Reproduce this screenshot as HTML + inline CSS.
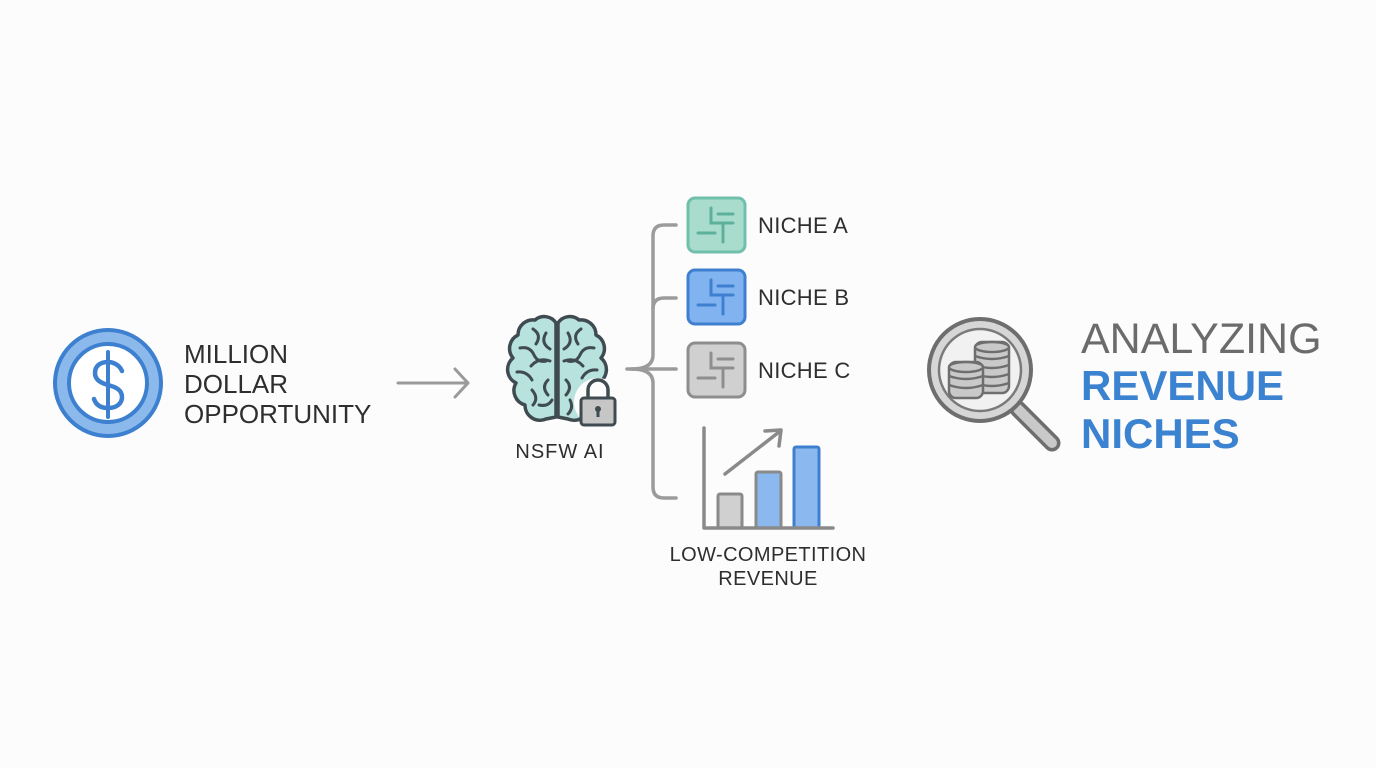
<!DOCTYPE html>
<html>
<head>
<meta charset="utf-8">
<style>
html,body{margin:0;padding:0;background:#fcfcfc;}
svg{display:block;}
text{font-family:"Liberation Sans",sans-serif;}
</style>
</head>
<body>
<svg width="1376" height="768" viewBox="0 0 1376 768" xmlns="http://www.w3.org/2000/svg">
<rect width="1376" height="768" fill="#fcfcfc"/>

<!-- Coin -->
<circle cx="108" cy="383" r="53" fill="#8cb9ec" stroke="#3d80cf" stroke-width="4"/>
<circle cx="108" cy="383" r="39" fill="#ffffff" stroke="#3d80cf" stroke-width="4"/>
<line x1="108" y1="352" x2="108" y2="417" stroke="#3d80cf" stroke-width="4" stroke-linecap="round"/>
<path d="M122,371 C119,364 112,362 108,362 C100,362 95,366 95,373 C95,380 101,383 108,385 C116,387 122,390 122,397 C122,404 116,408 108,408 C101,408 96,405 94,399" fill="none" stroke="#3d80cf" stroke-width="4.5" stroke-linecap="round"/>

<text x="184" y="363" font-size="26" fill="#2e2e2e">MILLION</text>
<text x="184" y="393" font-size="26" fill="#2e2e2e">DOLLAR</text>
<text x="184" y="423" font-size="26" fill="#2e2e2e">OPPORTUNITY</text>

<!-- Arrow -->
<line x1="398" y1="383" x2="467" y2="383" stroke="#9a9a9a" stroke-width="3" stroke-linecap="round"/>
<polyline points="455,369 468,383 455,397" fill="none" stroke="#9a9a9a" stroke-width="3" stroke-linecap="round" stroke-linejoin="round"/>

<!-- Brain -->
<g stroke="#3f4b50" stroke-width="3.5" stroke-linejoin="round" stroke-linecap="round" fill="#b8e2de">
<path d="M556,323 A14,14 0 0 0 535,320 A15,15 0 0 0 518,335 A15,15 0 0 0 513,358 A15,15 0 0 0 516,383 A15,15 0 0 0 525,405 A15,15 0 0 0 546,419 L556,417 Z"/>
<path d="M558,323 A14,14 0 0 1 579,320 A15,15 0 0 1 596,335 A15,15 0 0 1 601,358 A15,15 0 0 1 598,383 A15,15 0 0 1 589,405 A15,15 0 0 1 568,419 L558,417 Z"/>
</g>
<g stroke="#3f4b50" stroke-width="3" fill="none" stroke-linecap="round">
<path d="M533,329 q9,6 3,15"/>
<path d="M520,348 q10,-2 14,7 q4,8 12,6"/>
<path d="M546,333 q-6,10 4,16"/>
<path d="M517,372 q10,-1 15,8"/>
<path d="M531,366 q8,-9 19,-5"/>
<path d="M532,390 q7,8 1,15"/>
<path d="M548,380 q-7,7 0,15"/>
<path d="M539,405 q9,2 13,-5"/>
<path d="M581,329 q-9,6 -3,15"/>
<path d="M594,348 q-10,-2 -14,7 q-4,8 -12,6"/>
<path d="M568,333 q6,10 -4,16"/>
<path d="M597,370 q-10,-1 -15,8"/>
<path d="M583,366 q-8,-9 -19,-5"/>
<path d="M566,380 q7,7 0,15"/>
<path d="M570,400 q4,8 -2,14"/>
</g>
<!-- Lock -->
<circle cx="598" cy="402" r="24" fill="#fcfcfc"/>
<path d="M588,400 v-10 a10,10 0 0 1 20,0 v10" fill="none" stroke="#3f4b50" stroke-width="3.5"/>
<rect x="581" y="398" width="34" height="27" rx="3" fill="#c6c6c6" stroke="#3f4b50" stroke-width="3"/>
<circle cx="598" cy="409" r="3" fill="#3f4b50"/>
<rect x="596.5" y="409" width="3" height="8" fill="#3f4b50"/>

<text x="560" y="458" font-size="20" fill="#2e2e2e" text-anchor="middle" letter-spacing="1">NSFW AI</text>

<!-- Bracket -->
<g fill="none" stroke="#9b9b9b" stroke-width="3.5" stroke-linecap="round">
<path d="M676,225 H664 Q653,225 653,236 V355 Q653,369 632,369"/>
<path d="M676,298 H664 Q653,298 653,309"/>
<path d="M632,369 Q653,369 653,383 V487 Q653,498 664,498 H676"/>
<path d="M627,369 H676"/>
</g>

<!-- Niche boxes -->
<g stroke-linecap="round">
<rect x="688" y="198" width="57" height="54" rx="7" fill="#a9dccd" stroke="#70bfaa" stroke-width="3"/>
<g stroke="#5db19a" stroke-width="3" fill="none">
<path d="M711,208 V223 H733"/><path d="M718,214 H733"/><path d="M698,233 H715"/><path d="M723,223 V242"/>
</g>
<rect x="688" y="270" width="57" height="54" rx="7" fill="#80b3ef" stroke="#3f7fcf" stroke-width="3"/>
<g stroke="#3f7fcf" stroke-width="3" fill="none">
<path d="M711,280 V295 H733"/><path d="M718,286 H733"/><path d="M698,305 H715"/><path d="M723,295 V314"/>
</g>
<rect x="688" y="343" width="57" height="54" rx="7" fill="#d0d0d0" stroke="#8e8e8e" stroke-width="3"/>
<g stroke="#8e8e8e" stroke-width="3" fill="none">
<path d="M711,353 V368 H733"/><path d="M718,359 H733"/><path d="M698,378 H715"/><path d="M723,368 V387"/>
</g>
</g>
<text x="758" y="233" font-size="22" fill="#2e2e2e" letter-spacing="0.3">NICHE A</text>
<text x="758" y="305" font-size="22" fill="#2e2e2e" letter-spacing="0.3">NICHE B</text>
<text x="758" y="378" font-size="22" fill="#2e2e2e" letter-spacing="0.3">NICHE C</text>

<!-- Chart -->
<g stroke-linecap="round" stroke-linejoin="round">
<rect x="718" y="494" width="24" height="34" rx="2" fill="#d0d0d0" stroke="#8a8a8a" stroke-width="3"/>
<rect x="756" y="472" width="25" height="56" rx="2" fill="#8ab8ef" stroke="#8a8a8a" stroke-width="3"/>
<rect x="794" y="447" width="25" height="81" rx="2" fill="#8ab8ef" stroke="#3d80cf" stroke-width="3"/>
<path d="M704,428 V528 H833" fill="none" stroke="#8a8a8a" stroke-width="3.5"/>
<line x1="725" y1="474" x2="779" y2="432" stroke="#8a8a8a" stroke-width="3.5"/>
<polyline points="765,431 781,430 779,446" fill="none" stroke="#8a8a8a" stroke-width="3.5"/>
</g>
<text x="768" y="561" font-size="20" fill="#2e2e2e" text-anchor="middle" letter-spacing="0.4">LOW-COMPETITION</text>
<text x="768" y="585" font-size="20" fill="#2e2e2e" text-anchor="middle" letter-spacing="0.4">REVENUE</text>

<!-- Magnifier -->
<g stroke-linecap="round">
<line x1="1018" y1="409" x2="1052" y2="443" stroke="#6e6e6e" stroke-width="17"/>
<line x1="1018" y1="409" x2="1052" y2="443" stroke="#c9c9c9" stroke-width="10"/>
<circle cx="980" cy="370" r="51" fill="#d6d6d6" stroke="#6e6e6e" stroke-width="4"/>
<circle cx="980" cy="370" r="41" fill="#f1f1f1" stroke="#7a7a7a" stroke-width="2.5"/>
</g>
<g fill="#c9c9c9" stroke="#6e6e6e" stroke-width="2.5">
<rect x="975" y="342" width="34" height="51" rx="7"/>
<ellipse cx="992" cy="347" rx="17" ry="5"/>
</g>
<g fill="none" stroke="#6e6e6e" stroke-width="2.5">
<path d="M975,356 Q992,362 1009,356"/><path d="M975,365 Q992,371 1009,365"/><path d="M975,374 Q992,380 1009,374"/><path d="M975,383 Q992,389 1009,383"/>
</g>
<g fill="#c9c9c9" stroke="#6e6e6e" stroke-width="2.5">
<rect x="949" y="362" width="34" height="36" rx="7"/>
<ellipse cx="966" cy="367" rx="17" ry="5"/>
</g>
<g fill="none" stroke="#6e6e6e" stroke-width="2.5">
<path d="M949,376 Q966,382 983,376"/><path d="M949,385 Q966,391 983,385"/>
</g>

<text x="1081" y="353" font-size="43" fill="#6b6b6b">ANALYZING</text>
<text x="1081" y="400" font-size="42" font-weight="bold" fill="#3b82d0">REVENUE</text>
<text x="1081" y="448" font-size="42" font-weight="bold" fill="#3b82d0">NICHES</text>
</svg>
</body>
</html>
